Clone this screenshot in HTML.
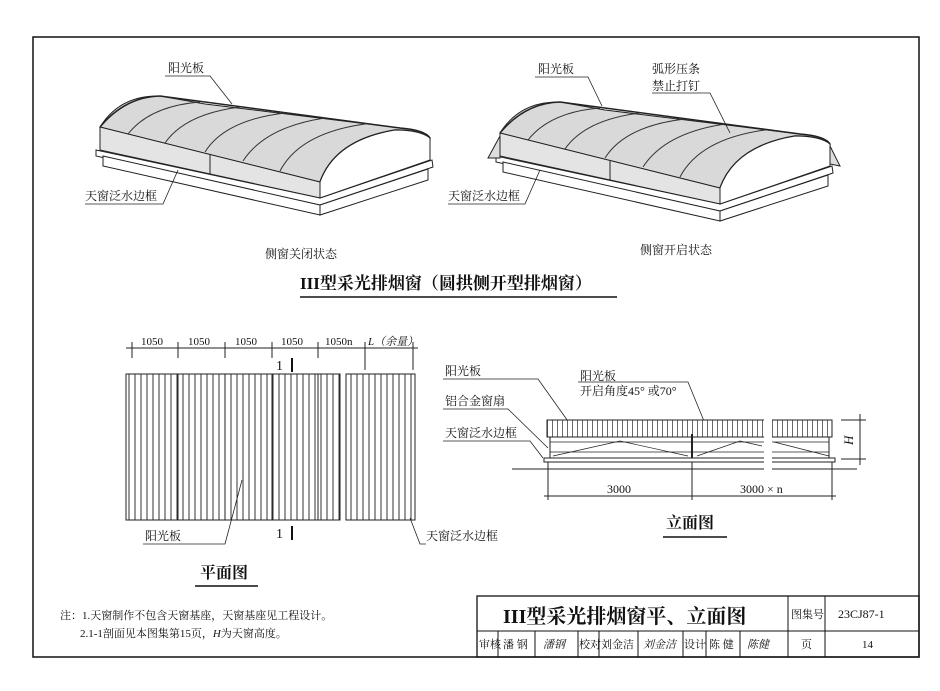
<!DOCTYPE html>
<html><head><meta charset="utf-8"><style>
body{margin:0;background:#fff}
svg{display:block}
text{font-family:"Liberation Serif","Noto Serif CJK SC","Noto Sans CJK SC",serif;fill:#111}
</style></head><body>
<svg width="940" height="691" viewBox="0 0 940 691" xmlns="http://www.w3.org/2000/svg">
<defs>
<pattern id="vl" width="6" height="10" patternUnits="userSpaceOnUse"><rect width="6" height="10" fill="#fff"/><line x1="3" y1="0" x2="3" y2="10" stroke="#333" stroke-width="1"/></pattern>
<pattern id="vl2" width="5" height="10" patternUnits="userSpaceOnUse"><rect width="5" height="10" fill="#fff"/><line x1="2.5" y1="0" x2="2.5" y2="10" stroke="#444" stroke-width="0.8"/></pattern>
<g id="sky">
  <!-- roof -->
  <path d="M100,127 Q120,95 160,96 L205,104 L400,128 Q425,130 430,138 Q395,128 360,140 Q330,158 320,182 Z" fill="#d9d9d9" stroke="#222" stroke-width="1"/>
  <path d="M100,127 Q125,97 160,96 L400,128 Q425,130 430,138" fill="none" stroke="#222" stroke-width="1.5"/>
  <path d="M320,182 Q335,140 395,130 Q420,130 430,138" fill="none" stroke="#222" stroke-width="1.5"/>
  <path d="M128,134 Q150,106 200,102" fill="none" stroke="#333"/>
  <path d="M165,143 Q185,114 240,107" fill="none" stroke="#333"/>
  <path d="M205,152 Q225,120 285,113" fill="none" stroke="#333"/>
  <path d="M243,161 Q265,127 325,118" fill="none" stroke="#333"/>
  <path d="M280,171 Q300,133 365,124" fill="none" stroke="#333"/>
  <!-- front face -->
  <path d="M100,127 L320,182 L320,198 L100,150 Z" fill="#e4e4e4" stroke="#222"/>
  <line x1="210" y1="155" x2="210" y2="174" stroke="#222"/>
  <!-- flange -->
  <path d="M96,150 L320,198 L432,160 L433,167 L320,205 L96,156 Z" fill="#fff" stroke="#222"/>
  <path d="M103,156 L320,205 L320,215 L103,166 Z" fill="#fff" stroke="#222"/>
  <path d="M320,205 L428,169 L428,180 L320,215 Z" fill="#fff" stroke="#222"/>
  <!-- right side -->
  <path d="M320,182 Q335,140 395,130 Q420,130 430,138 L430,160 L320,198 Z" fill="#fff" stroke="#222"/>
</g>
</defs>
<!-- frame -->
<rect x="33" y="37" width="886" height="620" fill="none" stroke="#111" stroke-width="1.5"/>

<!-- left isometric -->
<use href="#sky"/>
<text x="168" y="72" font-size="12">阳光板</text>
<polyline points="165,76 210,76 232,104" fill="none" stroke="#222" stroke-width="0.8"/>
<text x="85" y="200" font-size="12">天窗泛水边框</text>
<polyline points="85,204 163,204 178,170" fill="none" stroke="#222" stroke-width="0.8"/>
<text x="265" y="258" font-size="12">侧窗关闭状态</text>

<!-- right isometric -->
<g transform="translate(400,6)"><use href="#sky"/>
<path d="M100,130 L88,152 L100,152 Z" fill="#ddd" stroke="#222"/>
<path d="M430,140 L440,160 L430,158 Z" fill="#ddd" stroke="#222"/></g>
<text x="538" y="73" font-size="12">阳光板</text>
<polyline points="535,77 588,77 602,106" fill="none" stroke="#222" stroke-width="0.8"/>
<text x="652" y="73" font-size="12">弧形压条</text>
<text x="652" y="90" font-size="12">禁止打钉</text>
<polyline points="652,93 710,93 730,133" fill="none" stroke="#222" stroke-width="0.8"/>
<text x="448" y="200" font-size="12">天窗泛水边框</text>
<polyline points="448,204 525,204 540,170" fill="none" stroke="#222" stroke-width="0.8"/>
<text x="640" y="254" font-size="12">侧窗开启状态</text>

<text x="300" y="289" font-size="17" font-weight="bold">III型采光排烟窗（圆拱侧开型排烟窗）</text>
<line x1="300" y1="297" x2="617" y2="297" stroke="#111" stroke-width="1.5"/>

<!-- plan -->
<line x1="126" y1="348" x2="418" y2="348" stroke="#222"/>
<g stroke="#222">
<line x1="132" y1="342" x2="132" y2="358"/><line x1="178" y1="342" x2="178" y2="358"/><line x1="225" y1="342" x2="225" y2="358"/><line x1="272" y1="342" x2="272" y2="358"/><line x1="318" y1="342" x2="318" y2="358"/><line x1="365" y1="342" x2="365" y2="370"/><line x1="413" y1="342" x2="413" y2="370"/>
</g>
<g font-size="11"><text x="141" y="345">1050</text><text x="188" y="345">1050</text><text x="235" y="345">1050</text><text x="281" y="345">1050</text><text x="325" y="345">1050n</text><text x="368" y="345" font-style="italic">L（余量）</text></g>
<text x="276" y="370" font-size="14" font-family="Liberation Sans">1</text>
<line x1="292" y1="358" x2="292" y2="372" stroke="#111" stroke-width="2"/>
<text x="276" y="538" font-size="14" font-family="Liberation Sans">1</text>
<line x1="292" y1="526" x2="292" y2="540" stroke="#111" stroke-width="2"/>
<rect x="126" y="374" width="214" height="146" fill="url(#vl)" stroke="#222"/>
<rect x="346" y="374" width="69" height="146" fill="url(#vl)" stroke="#222"/>
<g stroke="#222"><line x1="178" y1="374" x2="178" y2="520"/><line x1="225" y1="374" x2="225" y2="520"/><line x1="272" y1="374" x2="272" y2="520"/><line x1="318" y1="374" x2="318" y2="520"/></g>
<text x="145" y="540" font-size="12">阳光板</text>
<polyline points="143,544 225,544 242,480" fill="none" stroke="#222" stroke-width="0.8"/>
<text x="426" y="540" font-size="12">天窗泛水边框</text>
<polyline points="426,544 420,544 410,518" fill="none" stroke="#222" stroke-width="0.8"/>
<text x="200" y="578" font-size="16" font-weight="bold" font-family="Liberation Sans,Noto Sans CJK SC,sans-serif">平面图</text>
<line x1="195" y1="586" x2="258" y2="586" stroke="#111" stroke-width="1.5"/>

<!-- elevation -->
<text x="445" y="375" font-size="12">阳光板</text>
<polyline points="443,379 538,379 570,424" fill="none" stroke="#222" stroke-width="0.8"/>
<text x="445" y="405" font-size="12">铝合金窗扇</text>
<polyline points="443,409 508,409 548,448" fill="none" stroke="#222" stroke-width="0.8"/>
<text x="445" y="437" font-size="12">天窗泛水边框</text>
<polyline points="443,441 530,441 543,458" fill="none" stroke="#222" stroke-width="0.8"/>
<text x="580" y="380" font-size="12">阳光板</text>
<text x="580" y="395" font-size="12">开启角度45°  或70°</text>
<polyline points="578,382 688,382 715,448" fill="none" stroke="#222" stroke-width="0.8"/>
<rect x="547" y="420" width="285" height="17" fill="url(#vl2)" stroke="#222"/>
<rect x="764" y="418" width="8" height="50" fill="#fff"/>
<rect x="550" y="437" width="279" height="21" fill="#fff" stroke="#222"/>
<g stroke="#222" stroke-width="0.7" fill="none">
<line x1="550" y1="442" x2="829" y2="442"/><line x1="550" y1="452" x2="829" y2="452"/>
<polyline points="553,456 620,441 688,456"/><polyline points="697,456 740,441 762,446"/><polyline points="774,442 829,456"/>
</g>
<line x1="692" y1="434" x2="692" y2="460" stroke="#222" stroke-width="2"/>
<rect x="544" y="458" width="291" height="4" fill="#fff" stroke="#222"/>
<rect x="764" y="416" width="8" height="50" fill="#fff"/>
<line x1="512" y1="469" x2="857" y2="469" stroke="#222"/>
<rect x="764" y="466" width="8" height="5" fill="#fff"/>
<line x1="548" y1="462" x2="548" y2="500" stroke="#222"/><line x1="692" y1="462" x2="692" y2="500" stroke="#222"/><line x1="832" y1="462" x2="832" y2="500" stroke="#222"/>
<line x1="544" y1="496" x2="836" y2="496" stroke="#222"/>
<text x="607" y="493" font-size="12">3000</text><text x="740" y="493" font-size="12">3000 × n</text>
<line x1="841" y1="420" x2="866" y2="420" stroke="#222"/><line x1="841" y1="459" x2="866" y2="459" stroke="#222"/>
<line x1="860" y1="414" x2="860" y2="465" stroke="#222"/>
<text x="853" y="445" font-size="13" font-style="italic" transform="rotate(-90 853 445)">H</text>
<text x="666" y="528" font-size="16" font-weight="bold" font-family="Liberation Sans,Noto Sans CJK SC,sans-serif">立面图</text>
<line x1="663" y1="537" x2="727" y2="537" stroke="#111" stroke-width="1.5"/>

<!-- notes -->
<text x="60" y="619" font-size="11">注：1.天窗制作不包含天窗基座，天窗基座见工程设计。</text>
<text x="80" y="637" font-size="11">2.1-1剖面见本图集第15页，<tspan font-style="italic">H</tspan>为天窗高度。</text>

<!-- title block -->
<g stroke="#111" fill="none">
<rect x="477" y="596" width="442" height="61" stroke-width="1.3"/>
<line x1="477" y1="631" x2="919" y2="631"/>
<line x1="788" y1="596" x2="788" y2="657"/><line x1="825" y1="596" x2="825" y2="657"/>
<line x1="498" y1="631" x2="498" y2="657"/><line x1="535" y1="631" x2="535" y2="657"/><line x1="578" y1="631" x2="578" y2="657"/><line x1="599" y1="631" x2="599" y2="657"/><line x1="638" y1="631" x2="638" y2="657"/><line x1="683" y1="631" x2="683" y2="657"/><line x1="706" y1="631" x2="706" y2="657"/><line x1="740" y1="631" x2="740" y2="657"/>
</g>
<text x="503" y="623" font-size="20" font-weight="bold">III型采光排烟窗平、立面图</text>
<text x="791" y="618" font-size="11">图集号</text>
<text x="838" y="618" font-size="12">23CJ87-1</text>
<g font-size="11"><text x="479" y="648">审核</text><text x="503" y="648">潘 钢</text><text x="543" y="648" font-style="italic">潘钢</text><text x="579" y="648">校对</text><text x="601" y="648">刘金洁</text><text x="643" y="648" font-style="italic">刘金洁</text><text x="684" y="648">设计</text><text x="709" y="648">陈 健</text><text x="747" y="648" font-style="italic">陈健</text><text x="801" y="648">页</text><text x="862" y="648">14</text></g>
</svg>
</body></html>
